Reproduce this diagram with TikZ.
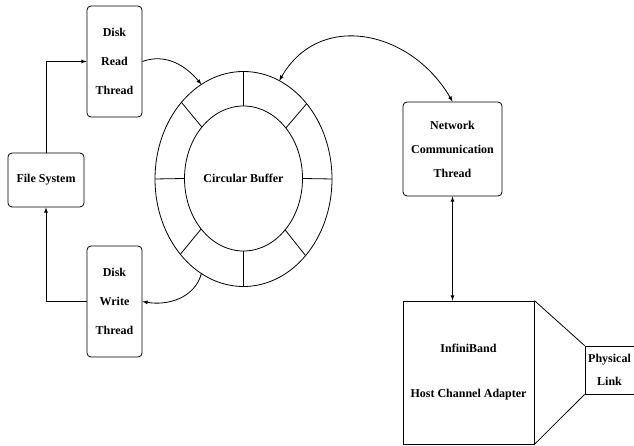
\documentclass[tikz,border=0pt]{standalone}
\usepackage{fontspec}
\setmainfont{Liberation Serif}
\usetikzlibrary{shapes.geometric}
\tikzstyle{every picture} = [x=1pt, y=1pt, line width=0.8pt, >=latex]
\tikzstyle{thread} = [rectangle, rounded corners=4pt, draw, align=center, inner sep=0pt, font=\fontsize{12}{29}\selectfont\bfseries]
\tikzstyle{plain} = [rectangle, draw, align=center, inner sep=0pt, font=\fontsize{12}{23}\selectfont\bfseries]
\tikzstyle{ring} = [ellipse, draw, inner sep=0pt, outer sep=0pt]

\begin{document}
\begin{tikzpicture}
                \useasboundingbox (0, 0) rectangle (634, 446);
                \node [thread, minimum width=55pt, minimum height=111pt] (read) at (114.5, 384.5) {Disk\\Read\\Thread};
                \node [thread, minimum width=76pt, minimum height=54pt] (fs) at (46, 266) {File System};
                \node [thread, minimum width=55pt, minimum height=111pt] (write) at (114.5, 144.5) {Disk\\Write\\Thread};
                \node [ring, minimum width=177pt, minimum height=215pt] (outer) at (243.5, 267) {};
                \node [ring, minimum width=118pt, minimum height=145pt, font=\fontsize{12}{14}\selectfont\bfseries] (buf) at (243.5, 267.5) {Circular Buffer};
                \foreach \a in {0, 50.7, 90, 129.3, 180, 230.7, 270, 309.3}
                    \draw (outer.\a) -- (buf.\a);
                \node [thread, minimum width=99pt, minimum height=94pt, font=\fontsize{12}{24}\selectfont\bfseries] (net) at (452.5, 297) {Network\\Communication\\Thread};
                \node [plain, minimum width=131pt, minimum height=143pt, font=\fontsize{12}{45}\selectfont\bfseries] (hca) at (468.5, 73.5) {InfiniBand\\Host Channel Adapter};
                \node [plain, minimum width=49pt, minimum height=48pt] (link) at (609.5, 76) {Physical\\Link};
                \draw (hca.north east) -- (link.north west);
                \draw (hca.south east) -- (link.south west);
                \draw [->] (fs.north) |- (read.west);
                \draw [->] (write.west) -| (fs.south);
                \draw [->] (read.east) to [out=20, in=130] (outer.114);
                \draw [->] (outer.246) to [out=-105, in=-10] (write.east);
                \draw [<->] (outer.70) to [out=60, in=120, looseness=1.2] (net.north);
                \draw [<->] (net.south) -- (net.south |- hca.north);
            \end{tikzpicture}
\end{document}
